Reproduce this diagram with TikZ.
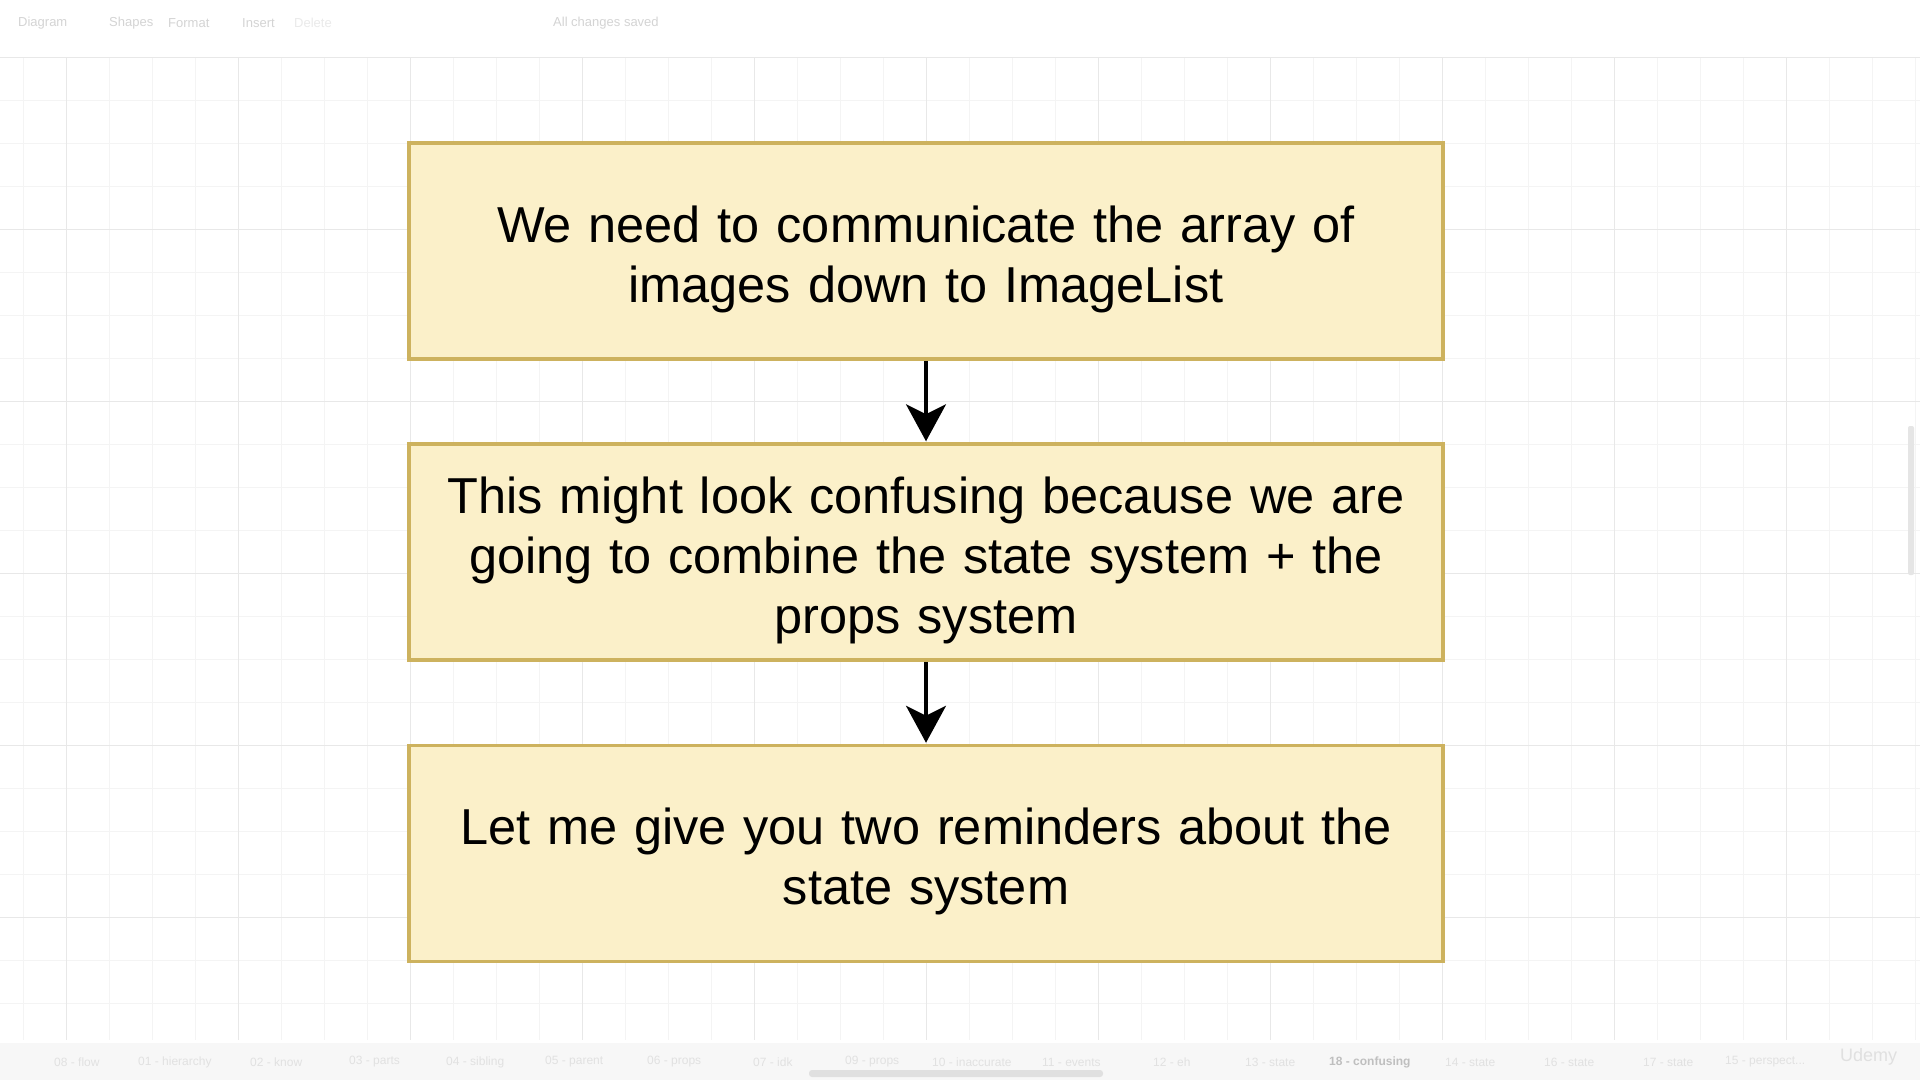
\documentclass[tikz,border=0pt]{standalone}
\usepackage{fontspec}
\setmainfont{Liberation Sans}
\usetikzlibrary{arrows.meta}
\definecolor{boxfill}{HTML}{FBF0C9}
\definecolor{boxdraw}{HTML}{CDB25E}
\definecolor{gridminor}{HTML}{F4F4F4}
\definecolor{gridmajor}{HTML}{E8E8E8}
\definecolor{uitext}{HTML}{D4D4D4}
\tikzset{
  notebox/.style={draw=boxdraw, fill=boxfill, line width=3.5pt, minimum width=1034pt, minimum height=216pt,
    inner sep=0pt},
  notetext/.style={inner sep=0pt, align=center, text width=1000pt, font=\fontsize{50.5}{60}\selectfont},
  flow/.style={line width=3.5pt, -{Stealth[length=37pt, width=40pt, inset=10pt]}, shorten >=1pt},
  ui/.style={text=uitext, font=\fontsize{13}{15}\selectfont, anchor=west, inner sep=0pt},
  tab/.style={text=uitext!70, font=\fontsize{12}{14}\selectfont, anchor=west, inner sep=0pt}
}
\begin{document}
\begin{tikzpicture}[x=1pt,y=-1pt]
\useasboundingbox (0,0) rectangle (1920,1080);
\fill[white] (0,0) rectangle (1920,1080);
% grid
\foreach \i in {0,...,45} {
  \draw[gridminor, line width=1pt] (\i*43-20,58) -- (\i*43-20,1040);
}
\foreach \j in {0,...,23} {
  \draw[gridminor, line width=1pt] (0,\j*43+57.5) -- (1920,\j*43+57.5);
}
\foreach \i in {0,...,11} {
  \draw[gridmajor, line width=1pt] (\i*172+66,58) -- (\i*172+66,1040);
}
\foreach \j in {0,...,5} {
  \draw[gridmajor, line width=1pt] (0,\j*172+57.5) -- (1920,\j*172+57.5);
}
% toolbar
\node[ui] (t1) at (18,23) {Diagram};
\node[ui] (t2) at (109,23) {Shapes};
\node[ui] (t3) at (168,23) {Format};
\node[ui] (t4) at (242,23) {Insert};
\node[ui, text=uitext!50] (t5) at (294,23) {Delete};
\node[ui] (t6) at (553,23) {All changes saved};
% bottom tabs
\fill[black!3] (0,1043) rectangle (1920,1080);
\node[tab] (b1) at (54,1062) {08 - flow};
\node[tab] (b2) at (138,1062) {01 - hierarchy};
\node[tab] (b3) at (250,1062) {02 - know};
\node[tab] (b4) at (349,1062) {03 - parts};
\node[tab] (b5) at (446,1062) {04 - sibling};
\node[tab] (b6) at (545,1062) {05 - parent};
\node[tab] (b7) at (647,1062) {06 - props};
\node[tab] (b8) at (753,1062) {07 - idk};
\node[tab] (b9) at (845,1062) {09 - props};
\node[tab] (b10) at (932,1062) {10 - inaccurate};
\node[tab] (b11) at (1042,1062) {11 - events};
\node[tab] (b12) at (1153,1062) {12 - eh};
\node[tab] (b13) at (1245,1062) {13 - state};
\node[tab, text=uitext!90!black, font=\fontsize{12}{14}\bfseries\selectfont] (b14) at (1329,1062) {18 - confusing};
\node[tab] (b15) at (1445,1062) {14 - state};
\node[tab] (b16) at (1544,1062) {16 - state};
\node[tab] (b17) at (1643,1062) {17 - state};
\node[tab] (b18) at (1725,1062) {15 - perspect...};
\node[tab, font=\fontsize{18}{20}\selectfont, text=black!12] (ud) at (1840,1057) {Udemy};
\fill[black!12, rounded corners=3pt] (809,1070) rectangle (1103,1077);
\fill[black!10, rounded corners=2pt] (1908,426) rectangle (1914,575);
% boxes
\node[notebox] (n1) at (926,251) {};
\node[notebox] (n2) at (926,552) {};
\node[notebox] (n3) at (926,853.5) {};
\node[notetext] (l1) at (926,259) {We need to communicate the array of\\images down to ImageList};
\node[notetext] (l2) at (926,560) {This might look confusing because we are\\going to combine the state system + the\\props system};
\node[notetext] (l3) at (926,861.5) {Let me give you two reminders about the\\state system};
\draw[flow] (n1.south) -- (n2.north);
\draw[flow] (n2.south) -- (n3.north);
\end{tikzpicture}
\end{document}
